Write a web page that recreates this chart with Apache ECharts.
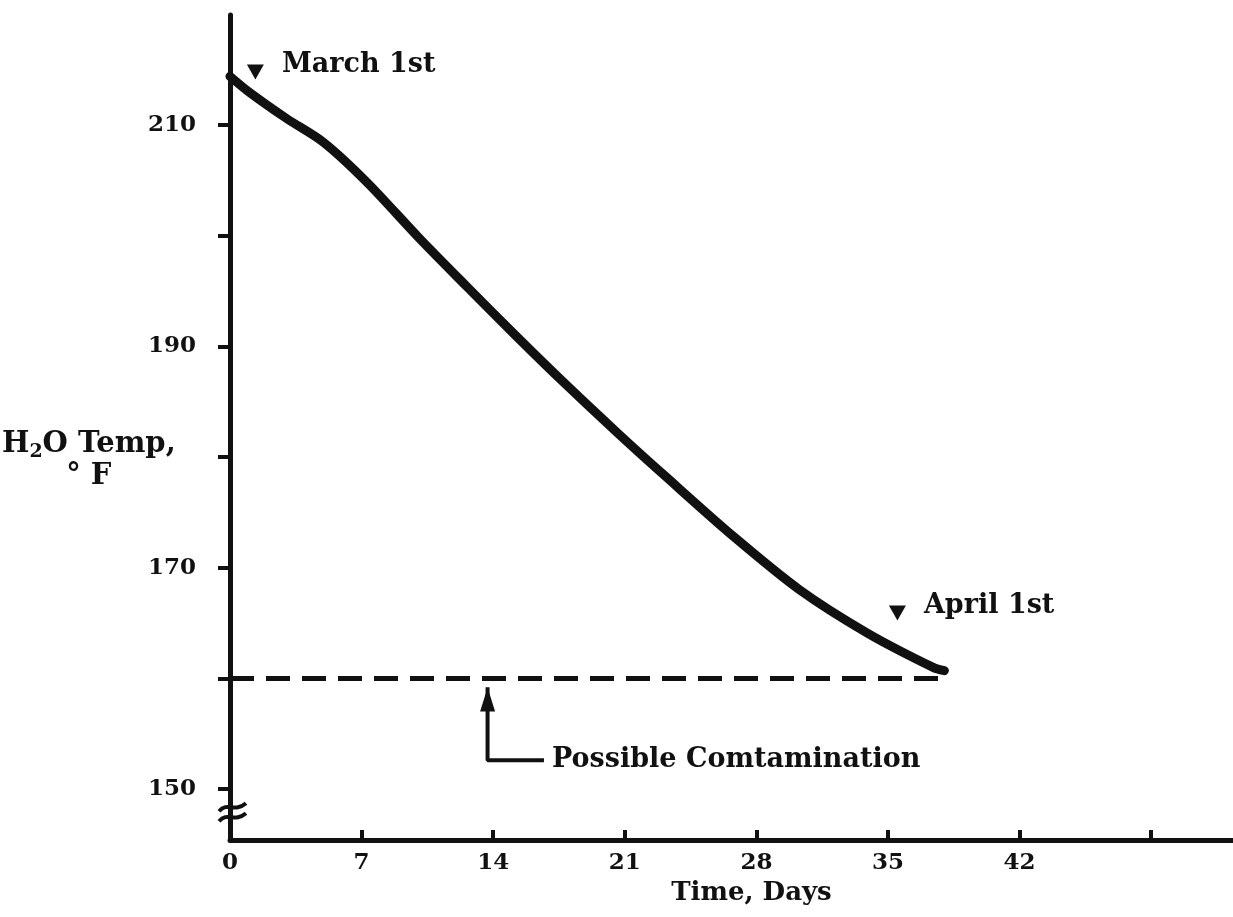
<!DOCTYPE html>
<html>
<head>
<meta charset="utf-8">
<script src="https://cdn.jsdelivr.net/npm/echarts@6/dist/echarts.min.js"></script>
<style>
  html, body { margin: 0; padding: 0; background: #fff; }
  #chart { width: 1233px; height: 917px; }
</style>
</head>
<body>
<div id="chart"></div>
<script>
// temperature curve
const days  = [0, 1, 3, 5, 7.3, 10, 12.6, 15.3, 17.9, 20.6, 23.2, 26.8, 30.3, 33.9, 37.4, 38]
const temps = [214.4, 213.0, 210.6, 208.4, 204.8, 199.9, 195.4, 190.8, 186.5, 182.2, 178.2, 172.8, 168.0, 164.1, 161.0, 160.7]

// contamination threshold (dashed)
const limitTemp = 160
const limitDays = [0, 38]

// date markers
const markNames = ["March 1st", "April 1st"]
const markDays  = [1.35, 35.5]
const markTemps = [214.8, 165.9]

// arrow pointing at the threshold
const arrowDay = 13.7
const arrowBottom = 152.6
const arrowEndDay = 16.7
const noteText = "Possible Comtamination"

// axes
const xTicks  = [7, 14, 21, 28, 35, 42, 49]
const xLabels = [0, 7, 14, 21, 28, 35, 42]
const yTicks  = [150, 160, 170, 180, 190, 200, 210]
const yLabels = [150, 170, 190, 210]

const ink = "#111"
const font = "DejaVu Serif"

const chart = echarts.init(document.getElementById("chart"))

const option = {
    animation: false,
    backgroundColor: "#fff",
    grid: {left: 230, right: 0, top: 15, bottom: 77, outerBoundsMode: "none"},
    xAxis: {
        type: "value",
        min: 0, max: 53.35,
        name: "Time, Days",
        nameLocation: "middle",
        nameGap: 38,
        nameTextStyle: {color: ink, fontFamily: font, fontWeight: "bold", fontSize: 26, padding: [0, 0, 0, 40]},
        axisLine: {lineStyle: {color: ink, width: 5}},
        axisTick: {inside: true, length: 10, lineStyle: {color: ink, width: 4}, customValues: xTicks},
        axisLabel: {color: ink, fontFamily: font, fontWeight: "bold", fontSize: 23, margin: 12, customValues: xLabels},
        splitLine: {show: false}
    },
    yAxis: {
        type: "value",
        min: 145.4, max: 219.94,
        axisLine: {show: true, lineStyle: {color: ink, width: 5}},
        axisTick: {show: true, length: 12, lineStyle: {color: ink, width: 4}, customValues: yTicks},
        axisLabel: {color: ink, fontFamily: font, fontWeight: "bold", fontSize: 23, margin: 34, customValues: yLabels},
        splitLine: {show: false}
    },
    // y-axis title with subscript, placed by hand
    graphic: [{
        type: "text",
        left: 2, top: 430,
        style: {
            text: "{t|H}{sub|2}{t|O Temp,}\n{c|° F}",
            rich: {
                t: {fill: ink, fontFamily: font, fontWeight: "bold", fontSize: 29, lineHeight: 34, verticalAlign: "middle"},
                sub: {fill: ink, fontFamily: font, fontWeight: "bold", fontSize: 19, lineHeight: 19, verticalAlign: "bottom"},
                c: {fill: ink, fontFamily: font, fontWeight: "bold", fontSize: 29, lineHeight: 30, align: "center"}
            }
        }
    }],
    series: [
        {
            type: "line",
            data: days.map((d, i) => [d, temps[i]]),
            smooth: 0.3,
            showSymbol: false,
            lineStyle: {color: ink, width: 9, cap: "round", join: "round"}
        },
        {
            type: "line",
            data: limitDays.map(d => [d, limitTemp]),
            showSymbol: false,
            lineStyle: {color: ink, width: 5, type: [24, 12]}
        },
        {
            type: "line",
            data: [[arrowDay, limitTemp - 0.8], [arrowDay, arrowBottom], [arrowEndDay, arrowBottom]],
            showSymbol: false,
            lineStyle: {color: ink, width: 4},
            endLabel: {
                show: true, formatter: noteText, distance: 8,
                color: ink, fontFamily: font, fontWeight: "bold", fontSize: 27
            }
        },
        {
            type: "scatter",
            data: [[arrowDay, limitTemp - 1.9]],
            symbol: "triangle",
            symbolSize: [15, 24],
            itemStyle: {color: ink, opacity: 1}
        },
        {
            type: "scatter",
            data: markDays.map((d, i) => ({value: [d, markTemps[i]], name: markNames[i]})),
            symbol: "triangle",
            symbolRotate: 180,
            symbolSize: [17, 15],
            itemStyle: {color: ink, opacity: 1},
            label: {
                show: true, position: "right", formatter: "{b}",
                distance: 18, offset: [0, -7],
                color: ink, fontFamily: font, fontWeight: "bold", fontSize: 27
            }
        }
    ]
}

chart.setOption(option)

// axis break mark near the bottom of the value axis
const p = chart.convertToPixel({gridIndex: 0}, [0, 148])
chart.setOption({
    graphic: [
        {type: "rect", shape: {x: p[0] - 6, y: p[1] - 3, width: 12, height: 7}, style: {fill: "#fff"}, z: 100},
        {type: "bezierCurve", shape: {x1: p[0] - 11, y1: p[1], cpx1: p[0] - 2, cpy1: p[1] - 10, cpx2: p[0] + 4, cpy2: p[1] + 2, x2: p[0] + 16, y2: p[1] - 8},
            style: {stroke: ink, lineWidth: 4, fill: null}, z: 101},
        {type: "bezierCurve", shape: {x1: p[0] - 11, y1: p[1] + 10, cpx1: p[0] - 2, cpy1: p[1], cpx2: p[0] + 4, cpy2: p[1] + 12, x2: p[0] + 16, y2: p[1] + 2},
            style: {stroke: ink, lineWidth: 4, fill: null}, z: 101}
    ]
})
</script>
</body>
</html>
